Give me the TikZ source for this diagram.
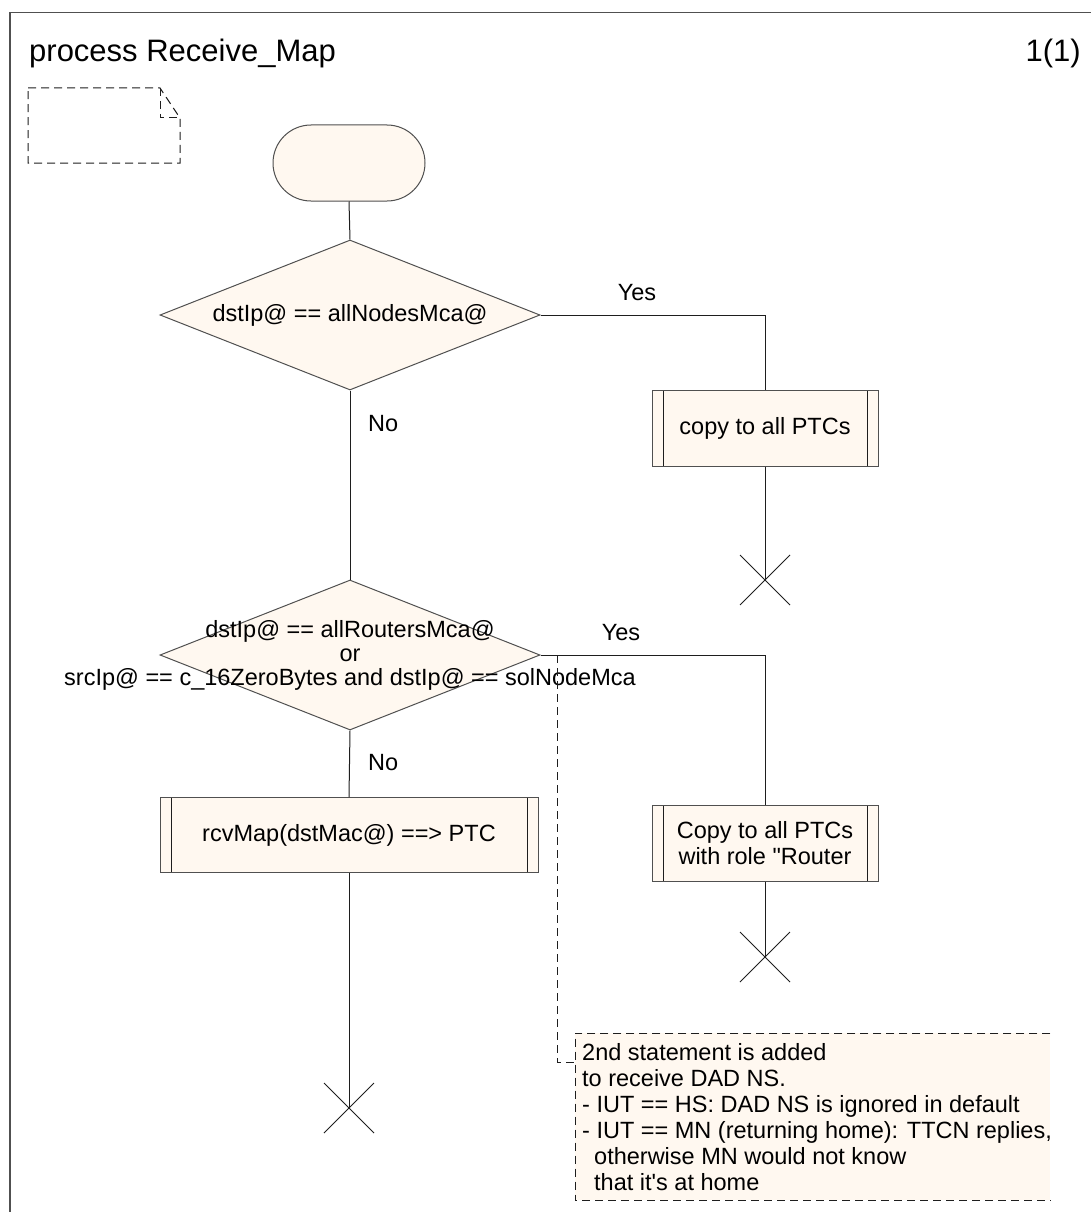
\documentclass[tikz,border=0pt]{standalone}
\usepackage{fontspec}
\setmainfont{Liberation Sans}[Ligatures=TeXOff]
\usetikzlibrary{shapes.geometric,shapes.misc}
\definecolor{sdlfill}{RGB}{255,248,240}
\definecolor{sdlline}{RGB}{30,30,30}
\definecolor{sdledge}{RGB}{80,80,80}

\begin{document}
\begin{tikzpicture}[x=1pt,y=-1pt,
  every node/.style={font=\fontsize{23.5}{25.5}\selectfont, text=black},
  flow/.style={draw=sdlline, line width=1pt},
  dnote/.style={draw=sdlline, line width=1pt, dash pattern=on 8pt off 5pt},
  terminal/.style={rounded rectangle, draw=sdledge, fill=sdlfill, line width=1pt,
    minimum width=152pt, minimum height=76pt, inner sep=0pt},
  decision/.style={diamond, draw=sdledge, fill=sdlfill, line width=1pt,
    minimum width=380pt, minimum height=150pt, inner sep=0pt},
  proc/.style={rectangle, draw=sdledge, fill=sdlfill, line width=1pt,
    minimum height=76pt, inner sep=0pt, align=center,
    path picture={
      \draw[sdlline, line width=1pt]
        ([xshift=11pt]path picture bounding box.north west) --
        ([xshift=11pt]path picture bounding box.south west)
        ([xshift=-11pt]path picture bounding box.north east) --
        ([xshift=-11pt]path picture bounding box.south east);}},
  lbl/.style={inner sep=0pt}
]
\useasboundingbox (0,0) rectangle (1090,1212);
\fill[white] (0,0) rectangle (1090,1212);

% diagram frame
\draw[draw=sdledge, line width=1.3pt] (1100,12.5) -- (10,12.5) -- (10,1225);
\node[anchor=base west, lbl, font=\fontsize{31}{37}\selectfont] (title) at (29,62) {process Receive\_Map};
\node[anchor=base east, lbl, font=\fontsize{31}{37}\selectfont] (page) at (1081,62) {1(1)};

% empty text symbol
\draw[dnote] (28,88) -- (160,88) -- (180,118) -- (180,163) -- (28,163) -- cycle;
\draw[dnote] (160,88) -- (160,118) -- (180,118);

% start
\node[terminal] (start) at (349,163) {};

% first decision
\node[decision] (d1) at (350,315) {};
\node[lbl] (d1t) at (350,315) {dstIp@ == allNodesMca@};
\node[proc, minimum width=226pt] (b1) at (765,428) {copy to all PTCs};
\coordinate (x1) at (765,580);
\node[lbl, anchor=base] (yes1) at (637,300) {Yes};
\node[lbl, anchor=west] (no1) at (368,424) {No};

% second decision
\node[decision] (d2) at (350,655) {};
\node[lbl, align=center, font=\fontsize{23.5}{24}\selectfont] (d2t) at (350,655)
  {dstIp@ == allRoutersMca@\\or\\srcIp@ == c\_16ZeroBytes and dstIp@ == solNodeMca};
\node[proc, minimum width=226pt] (b2) at (765,843) {Copy to all PTCs\\with role "Router};
\coordinate (x2) at (765,957);
\node[lbl, anchor=base] (yes2) at (621,640) {Yes};
\node[lbl, anchor=west] (no2) at (368,763) {No};

\node[proc, minimum width=378pt, minimum height=75pt] (b3) at (349,835) {rcvMap(dstMac@) ==> PTC};
\coordinate (x3) at (349,1108);

% connectors
\draw[flow] (start.south) -- (d1.north);
\draw[flow] (d1.east) -| (b1.north);
\draw[flow] (b1.south) -- (x1);
\draw[flow] (d1.south) -- (d2.north);
\draw[flow] (d2.east) -| (b2.north);
\draw[flow] (b2.south) -- (x2);
\draw[flow] (d2.south) -- (b3.north);
\draw[flow] (b3.south) -- (x3);

% stop symbols
\foreach \s in {x1,x2,x3}{
  \draw[flow] ([shift={(-25,-25)}]\s) -- ([shift={(25,25)}]\s)
              ([shift={(-25,25)}]\s) -- ([shift={(25,-25)}]\s);
}

% comment
\node[rectangle, fill=sdlfill, minimum width=475pt, minimum height=167pt,
      inner sep=0pt, anchor=north west] (note) at (575,1033) {};
\draw[dnote] (note.north east) -- (note.north west) -- (note.south west) -- (note.south east);
\node[lbl, anchor=north west, align=left, font=\fontsize{23.5}{26}\selectfont] (notetext) at (582,1043)
  {2nd statement is added\\to receive DAD NS.\\- IUT == HS: DAD NS is ignored in default\\- IUT == MN (returning home): TTCN replies,\\\hspace*{12pt}otherwise MN would not know\\\hspace*{12pt}that it's at home};
\coordinate (tap) at (557,655);
\coordinate (notein) at (575,1062);
\draw[dnote] (tap) |- (notein);
\end{tikzpicture}
\end{document}
